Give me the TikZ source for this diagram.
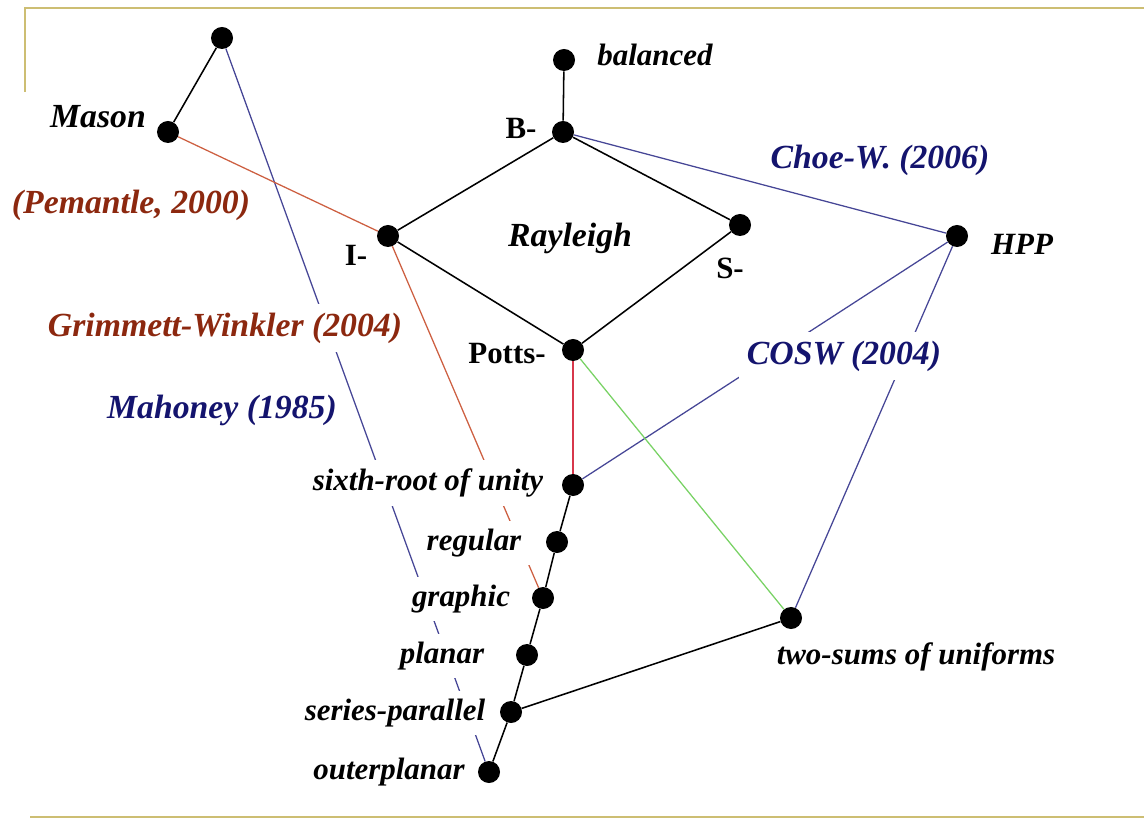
\documentclass[tikz,border=0pt]{standalone}
\usepackage{fontspec}
\setmainfont{Liberation Serif}
\usetikzlibrary{positioning}

\definecolor{framegold}{RGB}{205,190,115}
\definecolor{linkblue}{RGB}{70,70,150}
\definecolor{linkred}{RGB}{205,95,65}
\definecolor{linkcrimson}{RGB}{215,55,75}
\definecolor{linkgreen}{RGB}{120,210,100}
\definecolor{citeblue}{RGB}{20,20,110}
\definecolor{citebrown}{RGB}{140,40,15}

\tikzset{
  vtx/.style={circle, fill=black, minimum size=0.55cm, inner sep=0pt},
  lab/.style={fill=white, inner sep=6pt, font=\fontsize{22}{26}\selectfont\bfseries\itshape},
  labup/.style={inner sep=2pt, font=\fontsize{22}{26}\selectfont\bfseries},
  biglab/.style={lab, font=\fontsize{24}{28}\selectfont\bfseries\itshape},
  cite/.style={biglab, text=#1},
  blk/.style={line width=1.1pt},
  lnk/.style={#1, line width=0.9pt}
}

\begin{document}
\begin{tikzpicture}[x=0.025cm, y=-0.025cm]
      \useasboundingbox (0,0) rectangle (1144,819);
      \draw[framegold, line width=2pt] (25,92) -- (25,8) -- (1144,8);
      \draw[framegold, line width=2pt] (30,817) -- (1144,817);

      % vertices
      \node[vtx] (mtop) at (222,38) {};
      \node[vtx] (mason) at (168,132) {};
      \node[vtx] (bal) at (564,60) {};
      \node[vtx] (bneg) at (563,132) {};
      \node[vtx] (ineg) at (388,236) {};
      \node[vtx] (sneg) at (740,225) {};
      \node[vtx] (hpp) at (957,236) {};
      \node[vtx] (potts) at (573,350) {};
      \node[vtx] (sixth) at (573,485) {};
      \node[vtx] (reg) at (557,542) {};
      \node[vtx] (graphic) at (543,598) {};
      \node[vtx] (planar) at (527,655) {};
      \node[vtx] (sp) at (511,712) {};
      \node[vtx] (outer) at (489,772) {};
      \node[vtx] (twosum) at (791,618) {};

      % links
      \draw[blk] (mtop) -- (mason)
      (bal) -- (bneg)
      (bneg) -- (ineg)
      (bneg) -- (sneg)
      (ineg) -- (potts)
      (sneg) -- (potts)
      (sixth) -- (reg) -- (graphic) -- (planar) -- (sp) -- (outer)
      (sp) -- (twosum);
      \draw[lnk=linkblue] (mtop) -- (outer)
      (bneg) -- (hpp)
      (hpp) -- (sixth)
      (hpp) -- (twosum);
      \draw[lnk=linkred] (mason) -- (ineg)
      (ineg) -- (graphic);
      \draw[lnk=linkcrimson] (potts) -- (sixth);
      \draw[lnk=linkgreen] (potts) -- (twosum);

      % labels
      \node[biglab] (masonlab) at (98,117) {Mason};
      \node[lab] (ballab) at (655,55) {balanced};
      \node[labup] (blab) at (521,128) {B-};
      \node[labup] (ilab) at (356,255) {I-};
      \node[labup] (slab) at (730,268) {S-};
      \node[labup] (pottslab) at (507,354) {Potts-};
      \node[lab] (hpplab) at (1022,244) {HPP};
      \node[biglab] (raylab) at (570,238) {Rayleigh};
      \node[lab] (sixthlab) at (428,483) {sixth-root of unity};
      \node[lab] (reglab) at (474,543) {regular};
      \node[lab] (graphiclab) at (461,599) {graphic};
      \node[lab] (planarlab) at (442,656) {planar};
      \node[lab] (splab) at (395,713) {series-parallel};
      \node[lab] (outerlab) at (389,772) {outerplanar};
      \node[lab] (twosumlab) at (916,657) {two-sums of uniforms};
      \node[cite=citeblue] (choelab) at (880,160) {Choe-W. (2006)};
      \node[cite=citeblue] (coswlab) at (844,356) {COSW (2004)};
      \node[cite=citeblue] (mahlab) at (222,410) {Mahoney (1985)};
      \node[cite=citebrown] (pemlab) at (131,205) {(Pemantle, 2000)};
      \node[cite=citebrown] (gwlab) at (225,328) {Grimmett-Winkler (2004)};
    \end{tikzpicture}
\end{document}
